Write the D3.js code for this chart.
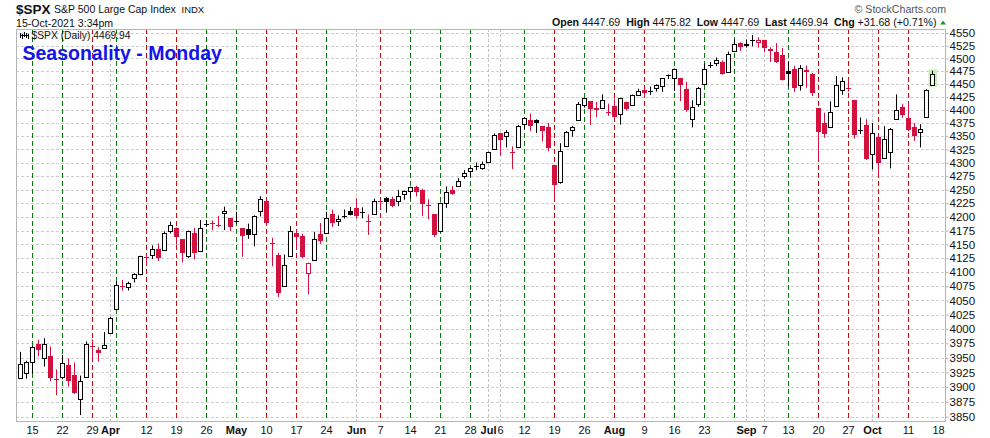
<!DOCTYPE html>
<html><head><meta charset="utf-8">
<script src="https://cdn.jsdelivr.net/npm/d3@7"></script>
<style>body{margin:0;background:#fff;}svg{display:block;}text{font-family:"Liberation Sans",Arial,sans-serif;}</style>
</head><body>
<svg id="c" width="990" height="438"></svg>
<script>
const dates = ["2021-03-10","2021-03-11","2021-03-12","2021-03-15","2021-03-16","2021-03-17","2021-03-18","2021-03-19","2021-03-22","2021-03-23","2021-03-24","2021-03-25","2021-03-26","2021-03-29","2021-03-30","2021-03-31",
"2021-04-01","2021-04-05","2021-04-06","2021-04-07","2021-04-08","2021-04-09","2021-04-12","2021-04-13","2021-04-14","2021-04-15","2021-04-16","2021-04-19","2021-04-20","2021-04-21","2021-04-22","2021-04-23","2021-04-26","2021-04-27","2021-04-28","2021-04-29","2021-04-30",
"2021-05-03","2021-05-04","2021-05-05","2021-05-06","2021-05-07","2021-05-10","2021-05-11","2021-05-12","2021-05-13","2021-05-14","2021-05-17","2021-05-18","2021-05-19","2021-05-20","2021-05-21","2021-05-24","2021-05-25","2021-05-26","2021-05-27","2021-05-28",
"2021-06-01","2021-06-02","2021-06-03","2021-06-04","2021-06-07","2021-06-08","2021-06-09","2021-06-10","2021-06-11","2021-06-14","2021-06-15","2021-06-16","2021-06-17","2021-06-18","2021-06-21","2021-06-22","2021-06-23","2021-06-24","2021-06-25","2021-06-28","2021-06-29","2021-06-30",
"2021-07-01","2021-07-02","2021-07-06","2021-07-07","2021-07-08","2021-07-09","2021-07-12","2021-07-13","2021-07-14","2021-07-15","2021-07-16","2021-07-19","2021-07-20","2021-07-21","2021-07-22","2021-07-23","2021-07-26","2021-07-27","2021-07-28","2021-07-29","2021-07-30",
"2021-08-02","2021-08-03","2021-08-04","2021-08-05","2021-08-06","2021-08-09","2021-08-10","2021-08-11","2021-08-12","2021-08-13","2021-08-16","2021-08-17","2021-08-18","2021-08-19","2021-08-20","2021-08-23","2021-08-24","2021-08-25","2021-08-26","2021-08-27","2021-08-30","2021-08-31",
"2021-09-01","2021-09-02","2021-09-03","2021-09-07","2021-09-08","2021-09-09","2021-09-10","2021-09-13","2021-09-14","2021-09-15","2021-09-16","2021-09-17","2021-09-20","2021-09-21","2021-09-22","2021-09-23","2021-09-24","2021-09-27","2021-09-28","2021-09-29","2021-09-30",
"2021-10-01","2021-10-04","2021-10-05","2021-10-06","2021-10-07","2021-10-08","2021-10-11","2021-10-12","2021-10-13","2021-10-14","2021-10-15"];

const opens = [3891.99,3915.54,3924.52,3942.96,3973.59,3949.57,3953.50,3913.14,3916.48,3937.60,3919.93,3879.34,3917.12,3969.31,3963.34,3967.25,
3992.78,4034.44,4075.57,4074.29,4089.95,4096.11,4124.71,4130.10,4141.58,4139.76,4174.14,4179.80,4159.18,4128.42,4170.46,4138.78,4185.03,4188.25,4185.14,4206.14,4198.10,
4191.98,4179.04,4177.06,4169.14,4210.34,4228.29,4150.34,4130.55,4074.99,4129.58,4169.92,4165.94,4098.45,4121.97,4168.61,4170.16,4205.94,4191.59,4201.94,4210.77,
4216.52,4206.82,4191.43,4206.05,4229.34,4233.81,4232.99,4228.56,4242.90,4248.31,4255.28,4248.87,4220.37,4204.78,4173.40,4224.61,4249.27,4256.97,4274.45,4284.90,4293.21,4290.65,
4300.73,4326.60,4356.46,4351.01,4321.07,4329.38,4372.41,4381.07,4380.11,4369.02,4367.43,4296.40,4265.11,4331.13,4361.27,4381.20,4409.58,4416.38,4402.95,4403.59,4395.12,
4406.86,4392.74,4415.95,4408.86,4429.07,4437.77,4435.79,4442.18,4446.08,4464.84,4461.65,4462.12,4440.94,4382.44,4410.56,4450.29,4484.40,4490.45,4493.75,4474.10,4513.76,4529.75,
4528.80,4534.48,4532.42,4535.38,4518.09,4513.02,4506.92,4474.81,4479.33,4447.49,4477.09,4469.74,4402.95,4374.45,4367.43,4406.75,4438.04,4442.12,4419.54,4362.41,4370.67,
4317.16,4348.84,4309.87,4319.57,4383.73,4406.51,4385.44,4368.31,4358.01,4386.75,4447.69];

const highs = [3917.35,3960.27,3944.99,3970.08,3981.04,3983.87,3969.62,3930.12,3955.31,3949.13,3942.08,3919.54,3978.19,3981.83,3968.01,3994.41,
4020.63,4083.42,4086.23,4083.13,4098.19,4129.48,4131.76,4148.00,4151.69,4173.49,4191.31,4180.81,4159.18,4175.02,4179.57,4194.17,4194.19,4193.35,4201.53,4218.78,4198.10,
4209.39,4179.04,4187.72,4202.70,4238.04,4236.39,4162.04,4134.73,4131.58,4183.13,4171.92,4169.15,4116.93,4172.80,4188.72,4209.52,4213.42,4202.61,4213.38,4218.36,
4234.12,4217.37,4204.39,4233.45,4232.34,4236.74,4237.09,4249.74,4248.38,4255.59,4257.16,4251.89,4232.29,4204.78,4226.24,4255.84,4256.60,4271.28,4286.12,4292.14,4300.52,4302.43,
4320.66,4355.43,4356.46,4361.88,4330.88,4371.60,4386.68,4393.68,4382.19,4369.02,4375.09,4296.40,4336.84,4359.70,4369.87,4415.18,4422.73,4416.38,4415.47,4429.97,4412.25,
4422.18,4423.79,4416.17,4429.76,4440.82,4439.39,4445.21,4449.44,4461.77,4468.37,4480.26,4462.12,4454.32,4418.61,4444.35,4489.88,4492.81,4501.71,4495.90,4513.33,4537.36,4531.39,
4537.11,4545.85,4541.45,4535.38,4521.79,4529.90,4520.47,4492.99,4485.68,4486.87,4485.87,4471.52,4402.95,4394.87,4416.75,4465.40,4463.12,4457.30,4419.54,4385.57,4382.55,
4375.19,4355.51,4369.23,4365.57,4429.97,4412.02,4415.88,4374.89,4372.87,4439.73,4475.82];

const lows = [3885.73,3915.54,3915.21,3923.54,3953.44,3935.74,3910.86,3886.75,3914.16,3901.57,3889.07,3853.50,3917.12,3943.25,3944.35,3966.98,
3992.78,4034.44,4068.14,4068.31,4082.54,4095.51,4114.82,4124.43,4120.87,4139.76,4170.75,4150.47,4118.38,4126.35,4123.69,4138.78,4182.36,4176.22,4181.78,4176.81,4174.85,
4188.03,4128.59,4160.94,4147.33,4201.64,4188.13,4111.53,4056.88,4074.99,4129.58,4142.69,4125.99,4061.41,4121.97,4151.72,4170.16,4182.52,4184.11,4197.78,4203.57,
4197.59,4198.27,4167.93,4206.05,4215.66,4208.41,4218.74,4220.34,4232.25,4234.07,4238.35,4202.45,4196.05,4164.40,4173.40,4217.27,4241.43,4256.97,4271.16,4274.67,4287.04,4287.96,
4300.73,4326.60,4314.37,4329.79,4289.37,4329.38,4364.03,4360.69,4356.76,4340.70,4322.53,4233.13,4262.05,4331.13,4350.06,4381.20,4405.45,4372.51,4387.01,4403.59,4389.65,
4384.81,4373.00,4400.23,4408.86,4429.07,4424.74,4430.03,4436.42,4435.96,4460.82,4437.66,4417.83,4397.59,4367.73,4406.80,4450.29,4482.28,4485.66,4468.99,4474.10,4513.76,4515.80,
4522.02,4524.66,4521.94,4513.00,4493.95,4492.07,4457.66,4445.70,4435.46,4438.37,4443.80,4427.76,4305.91,4347.96,4367.43,4406.75,4430.27,4436.19,4346.33,4355.08,4306.24,
4288.52,4278.94,4309.87,4290.49,4383.73,4386.22,4360.59,4342.09,4329.92,4386.75,4447.69];

const closes = [3898.81,3939.34,3943.34,3968.94,3962.71,3974.12,3915.46,3913.10,3940.59,3910.52,3889.14,3909.52,3974.54,3971.09,3958.55,3972.89,
4019.87,4077.91,4073.94,4079.95,4097.17,4128.80,4127.99,4141.59,4124.66,4170.42,4185.47,4163.26,4134.94,4173.42,4134.98,4180.17,4187.62,4186.72,4183.18,4211.47,4181.17,
4192.66,4164.66,4167.59,4201.62,4232.60,4188.43,4152.10,4063.04,4112.50,4173.85,4163.29,4127.83,4115.68,4159.12,4155.86,4197.05,4188.13,4195.99,4200.88,4204.11,
4202.04,4208.12,4192.85,4229.89,4226.52,4227.26,4219.55,4239.18,4247.44,4255.15,4246.59,4223.70,4221.86,4166.45,4224.79,4246.44,4241.84,4266.49,4280.70,4290.61,4291.80,4297.50,
4319.94,4352.34,4343.54,4358.13,4320.82,4369.55,4384.63,4369.21,4374.30,4360.03,4327.16,4258.49,4323.06,4358.69,4367.48,4411.79,4422.30,4401.46,4400.64,4419.15,4395.26,
4387.16,4423.15,4402.66,4429.10,4436.52,4432.35,4436.75,4447.70,4460.83,4468.00,4479.71,4448.08,4400.27,4405.80,4441.67,4479.53,4486.23,4496.19,4470.00,4509.37,4528.79,4522.68,
4524.09,4536.95,4535.43,4520.03,4514.07,4493.28,4458.58,4468.73,4443.05,4480.70,4473.75,4432.99,4357.73,4354.19,4395.64,4448.98,4455.48,4443.11,4352.63,4359.46,4307.54,
4357.04,4300.46,4345.72,4363.55,4399.76,4391.34,4361.19,4350.65,4363.80,4438.26,4469.94];

const prevClose = 3875.44;
const yTicks = [3850,3875,3900,3925,3950,3975,4000,4025,4050,4075,4100,4125,4150,4175,4200,4225,4250,4275,4300,4325,4350,4375,4400,4425,4450,4475,4500,4525,4550];
const xTickDates = ["2021-03-15","2021-03-22","2021-03-29","2021-04-01","2021-04-12","2021-04-19","2021-04-26","2021-05-03","2021-05-10","2021-05-17","2021-05-24","2021-06-01","2021-06-07","2021-06-14","2021-06-21","2021-06-28","2021-07-01","2021-07-06","2021-07-12","2021-07-19","2021-07-26","2021-08-02","2021-08-09","2021-08-16","2021-08-23","2021-09-01","2021-09-07","2021-09-13","2021-09-20","2021-09-27","2021-10-01","2021-10-11","2021-10-18"];
const xTickLabels = ["15","22","29","Apr","12","19","26","May","10","17","24","Jun","7","14","21","28","Jul","6","12","19","26","Aug","9","16","23","Sep","7","13","20","27","Oct","11","18"];
const futureDates = ["2021-10-18"];

const svg = d3.select("#c");
const P = {left:16, right:945, top:29, bottom:421};
const parse = d3.utcParse("%Y-%m-%d");
const x = d3.scaleBand().domain(dates.concat(futureDates)).range([11.5, 11.5 + 6*(dates.length+futureDates.length)]);
const cx = d => x(d) + x.bandwidth()/2;
const y = d3.scaleLog().domain([3850,4550]).range([416.7,33]);
const ry = v => Math.round(y(v));

const data = dates.map((d,i)=>({d, i, o:opens[i], h:highs[i], l:lows[i], c:closes[i], pc: i ? closes[i-1] : prevClose}));
const RED = "#d2113f", BLK = "#000", UPG = "#0a7a0a", DNR = "#d00a0a", GRID = "#cfcfcf";

svg.append("rect").attr("width",990).attr("height",438).attr("fill","#fff");
svg.append("defs").append("clipPath").attr("id","clip").append("rect")
  .attr("x",P.left+0.5).attr("y",P.top+0.5).attr("width",P.right-P.left).attr("height",P.bottom-P.top);

const grid = svg.append("g");
grid.selectAll("line.h").data(yTicks).join("line")
  .attr("x1",P.left).attr("x2",P.right)
  .attr("y1",d=>ry(d)+0.5).attr("y2",d=>ry(d)+0.5)
  .attr("stroke",GRID).attr("stroke-dasharray","3,2");

const vData = [];
data.forEach((r,k)=>{
  const dt = parse(r.d);
  const prev = k ? parse(data[k-1].d) : null;
  if (dt.getUTCDay()===1) { vData.push({d:r.d, col: r.c >= r.pc ? UPG : DNR, dash:"5,3"}); return; }
  if (!prev) return;
  const newMonth = dt.getUTCMonth() !== prev.getUTCMonth();
  const newWeek = (dt - prev) / 86400000 >= 3 || dt.getUTCDay() < prev.getUTCDay();
  if (newMonth || newWeek) vData.push({d:r.d, col:"#c4c4c4", dash:"3,2"});
});
grid.selectAll("line.v").data(vData).join("line")
  .attr("x1",d=>cx(d.d)).attr("x2",d=>cx(d.d))
  .attr("y1",P.top).attr("y2",P.bottom)
  .attr("stroke",d=>d.col).attr("stroke-dasharray",d=>d.dash);

const g = svg.append("g").attr("clip-path","url(#clip)");
const last = data[data.length-1];
g.append("rect").attr("x",cx(last.d)-4).attr("width",8.5)
  .attr("y",y(last.h)-1.5).attr("height",y(last.l)-y(last.h)+3).attr("fill","#c6f2b3");

const colr = r => r.c >= r.pc ? BLK : RED;
g.selectAll("line.wick").data(data).join("line")
  .attr("x1",r=>cx(r.d)).attr("x2",r=>cx(r.d))
  .attr("y1",r=>y(r.h)).attr("y2",r=>y(r.l)+0.5)
  .attr("stroke",colr).attr("stroke-width",1);

const hollow = data.filter(r => r.c > r.o && (ry(r.o)-ry(r.c)) >= 2);
const solid = data.filter(r => !(r.c > r.o && (ry(r.o)-ry(r.c)) >= 2));
g.selectAll("rect.hb").data(hollow).join("rect")
  .attr("x",r=>cx(r.d)-2).attr("width",4)
  .attr("y",r=>ry(r.c)+0.5).attr("height",r=>ry(r.o)-ry(r.c))
  .attr("fill","#fff").attr("stroke",colr).attr("stroke-width",1);
g.selectAll("rect.sb").data(solid).join("rect")
  .attr("x",r=>cx(r.d)-2.5).attr("width",5)
  .attr("y",r=>Math.min(ry(r.o),ry(r.c)))
  .attr("height",r=>Math.max(1,Math.abs(ry(r.o)-ry(r.c))))
  .attr("fill",colr);

svg.append("rect").attr("x",P.left+0.5).attr("y",P.top+0.5)
  .attr("width",P.right-P.left).attr("height",P.bottom-P.top)
  .attr("fill","none").attr("stroke","#b5b5b5");

const ax = svg.append("g").attr("transform",`translate(${P.right+0.5},0)`)
  .call(d3.axisRight(y).tickValues(yTicks).tickFormat(d3.format("d")).tickSize(3).tickPadding(1));
ax.select(".domain").remove();
ax.selectAll("line").attr("stroke","#b5b5b5");
ax.selectAll("text").attr("font-size","11.5px").attr("fill","#111").attr("font-family","'Liberation Sans',Arial,sans-serif");

svg.append("g").selectAll("text").data(xTickDates).join("text")
  .attr("x",d=>cx(d)).attr("y",433.5).attr("text-anchor","middle")
  .attr("font-size","11px").attr("fill","#111")
  .attr("font-weight",(d,i)=>/^[A-Z]/.test(xTickLabels[i]) ? "bold" : "normal")
  .text((d,i)=>xTickLabels[i]);

svg.append("text").attr("x",16).attr("y",13.5).attr("font-size","13.5px").attr("font-weight","bold").attr("fill","#111").text("$SPX");
svg.append("text").attr("x",54).attr("y",13).attr("font-size","10.5px").attr("fill","#111").text("S&P 500 Large Cap Index");
svg.append("text").attr("x",181.5).attr("y",13).attr("font-size","9.5px").attr("fill","#111").text("INDX");
svg.append("text").attr("x",16).attr("y",26.5).attr("font-size","10.6px").attr("fill","#111").text("15-Oct-2021 3:34pm");

const fmt = d3.format(".2f");
const chg = last.c - last.pc;
const hdr = svg.append("text").attr("x",936.5).attr("y",26).attr("text-anchor","end")
  .attr("font-size","10.6px").attr("fill","#111").style("white-space","pre");
[["Open",true],[" "+fmt(last.o)+"  ",false],["High",true],[" "+fmt(last.h)+"  ",false],["Low",true],[" "+fmt(last.l)+"  ",false],
 ["Last",true],[" "+fmt(last.c)+"  ",false],["Chg",true],[" "+(chg>=0?"+":"")+fmt(chg)+" ("+(chg>=0?"+":"")+fmt(chg/last.pc*100)+"%)",false]]
 .forEach(([t,b])=>hdr.append("tspan").attr("font-weight",b?"bold":"normal").text(t));
svg.append("path").attr("d","M940,24.5 L946,24.5 L943,20.5 Z").attr("fill","#1e9a1e");
svg.append("text").attr("x",946).attr("y",13).attr("text-anchor","end").attr("font-size","10.6px").attr("fill","#555").text("\u00A9 StockCharts.com");

const ic = svg.append("g").attr("stroke","#000").attr("stroke-width",1);
[[20.5,33,38],[22.5,34,39],[24.5,32,37],[26.5,33,38],[28.5,34,39]].forEach(([xx,a,b])=>ic.append("line").attr("x1",xx).attr("x2",xx).attr("y1",a).attr("y2",b));
ic.append("line").attr("x1",20).attr("x2",29).attr("y1",35.5).attr("y2",35.5);
svg.append("text").attr("x",31.5).attr("y",39).attr("font-size","10.3px").attr("fill","#111")
  .attr("font-family","'DejaVu Sans Mono',monospace").text("$SPX (Daily) " + fmt(last.c));
svg.append("text").attr("x",22.5).attr("y",60).attr("font-size","19.5px").attr("font-weight","bold")
  .attr("fill","#1414e8").text("Seasonality - Monday");
</script>
</body></html>
